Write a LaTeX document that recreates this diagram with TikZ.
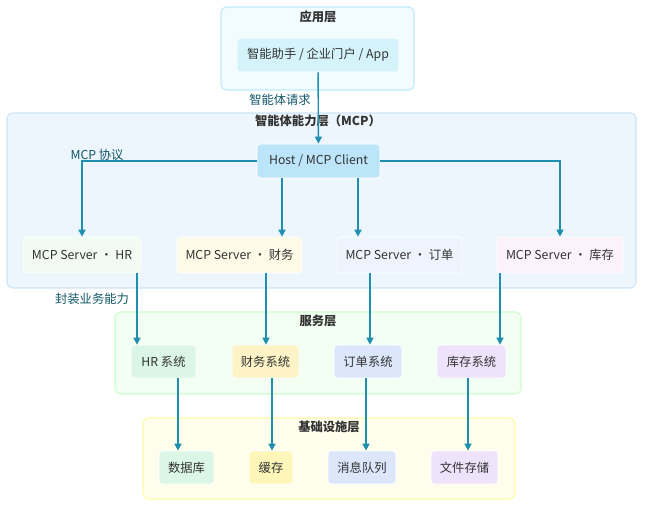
\documentclass[tikz,border=0pt]{standalone}
\usepackage{fontspec}
\setmainfont{Noto Sans CJK SC}
\usetikzlibrary{arrows.meta}
\definecolor{arrowc}{HTML}{1E8FAE}
\definecolor{txt}{HTML}{333333}
\definecolor{appIn}{HTML}{D4F3FB}
\definecolor{hostC}{HTML}{BDE5FA}
\definecolor{grnL}{HTML}{F2FBF3}
\definecolor{ylwL}{HTML}{FDFBE7}
\definecolor{bluL}{HTML}{EEF4FD}
\definecolor{pnkL}{HTML}{FCF2FC}
\definecolor{grnM}{HTML}{DCF6E6}
\definecolor{ylwM}{HTML}{FDF3C6}
\definecolor{bluM}{HTML}{DCE7FC}
\definecolor{vioM}{HTML}{EFE3FC}
\definecolor{ylwS}{HTML}{FDF6B8}
\definecolor{mcpLine}{HTML}{CDE4F6}
\definecolor{mcpFill}{HTML}{EEF6FD}
\tikzset{
  layer/.style 2 args={draw=#1, fill=#2, rounded corners=3pt, line width=0.6pt},
  box/.style={fill=#1, draw=white, rounded corners=2pt, align=center, text=txt, font=\fontsize{7}{8}\selectfont, inner sep=0pt},
  title/.style={font=\fontsize{7}{8}\selectfont\bfseries, text=txt},
  lbl/.style={font=\fontsize{7}{8}\selectfont, text=arrowc!60!black},
  link/.style={draw=arrowc, line width=0.8pt, -{Triangle[length=4pt,width=4pt]}},
}
\begin{document}
\begin{tikzpicture}[x=0.02cm, y=-0.02cm]
  \useasboundingbox (0,0) rectangle (650,514);

  % layers
  \draw[layer={cyan!25}{cyan!5}] (221,7) rectangle (414,90);
  \draw[layer={mcpLine}{mcpFill}] (7,113) rectangle (636,288);
  \draw[layer={green!20}{green!5}] (115,312) rectangle (521,394);
  \draw[layer={yellow!35}{yellow!7}] (143,418) rectangle (515,499);

  \node[title] (tApp) at (318,17) {应用层};
  \node[title] (tMcp) at (318,121) {智能体能力层（MCP）};
  \node[title] (tSvc) at (318,321) {服务层};
  \node[title] (tInf) at (329,427) {基础设施层};

  % nodes
  \node[box=appIn, minimum width=3.24cm, minimum height=0.68cm] (app) at (318,55) {智能助手 / 企业门户 / App};
  \node[box=hostC, minimum width=2.46cm, minimum height=0.68cm] (host) at (318.5,161) {Host / MCP Client};

  \node[box=grnL, minimum width=2.36cm, minimum height=0.72cm] (sHR) at (82,255) {MCP Server · HR};
  \node[box=ylwL, minimum width=2.5cm, minimum height=0.72cm] (sFin) at (239.5,255) {MCP Server · 财务};
  \node[box=bluL, minimum width=2.5cm, minimum height=0.72cm] (sOrd) at (399.5,255) {MCP Server · 订单};
  \node[box=pnkL, minimum width=2.52cm, minimum height=0.72cm] (sInv) at (560,255) {MCP Server · 库存};

  \node[box=grnM, minimum width=1.3cm, minimum height=0.66cm] (hr) at (163.5,361.5) {HR 系统};
  \node[box=ylwM, minimum width=1.34cm, minimum height=0.66cm] (fin) at (265.5,361.5) {财务系统};
  \node[box=bluM, minimum width=1.36cm, minimum height=0.66cm] (ord) at (368,361.5) {订单系统};
  \node[box=vioM, minimum width=1.38cm, minimum height=0.66cm] (inv) at (471.5,361.5) {库存系统};

  \node[box=grnM, minimum width=1.1cm, minimum height=0.66cm] (db) at (186.5,467.5) {数据库};
  \node[box=ylwS, minimum width=0.88cm, minimum height=0.66cm] (cache) at (271,467.5) {缓存};
  \node[box=bluM, minimum width=1.36cm, minimum height=0.66cm] (mq) at (362,467.5) {消息队列};
  \node[box=vioM, minimum width=1.34cm, minimum height=0.66cm] (fs) at (464.5,467.5) {文件存储};

  % connectors
  \draw[link] (app) -- (host);
  \node[lbl] (lReq) at (280,100) {智能体请求};
  \draw[link] (host.west) -| (sHR.north);
  \node[lbl] (lProto) at (97,155) {MCP 协议};
  \draw[link] (host.south -| 282,0) -- (sFin.north -| 282,0);
  \draw[link] (host.south -| 358,0) -- (sOrd.north -| 358,0);
  \draw[link] (host.east) -| (sInv.north);

  \draw[link] (sHR.south -| 137,0) -- (hr.north -| 137,0);
  \node[lbl] (lWrap) at (92,299) {封装业务能力};
  \draw[link] (sFin.south -| 266,0) -- (fin.north -| 266,0);
  \draw[link] (sOrd.south -| 370,0) -- (ord.north -| 370,0);
  \draw[link] (sInv.south -| 500,0) -- (inv.north -| 500,0);

  \draw[link] (hr.south -| 178,0) -- (db.north -| 178,0);
  \draw[link] (fin.south -| 272,0) -- (cache.north -| 272,0);
  \draw[link] (ord.south -| 366,0) -- (mq.north -| 366,0);
  \draw[link] (inv.south -| 468,0) -- (fs.north -| 468,0);
\end{tikzpicture}
\end{document}
